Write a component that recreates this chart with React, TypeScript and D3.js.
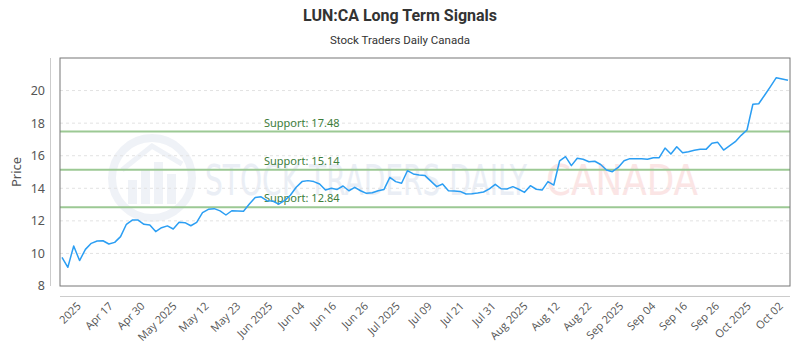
import React from "react";
import * as d3 from "d3";

// Daily closes (trading days, Apr 2025 -> Oct 2025)
const prices = [
  9.76, 9.15, 10.46, 9.56, 10.25, 10.62, 10.76, 10.78, 10.58, 10.68,
  11.03, 11.79, 12.05, 12.05, 11.79, 11.75, 11.34, 11.58, 11.69, 11.5,
  11.91, 11.89, 11.7, 11.91, 12.5, 12.71, 12.75, 12.61, 12.36, 12.62,
  12.61, 12.59, 13.03, 13.44, 13.48, 13.24, 13.22, 13.03, 13.24, 13.57,
  14.06, 14.41, 14.47, 14.41, 14.26, 13.89, 14.0, 13.93, 14.14, 13.85,
  14.06, 13.85, 13.69, 13.73, 13.85, 13.93, 14.67, 14.41, 14.31, 15.08,
  14.88, 14.82, 14.78, 14.44, 14.1, 14.26, 13.85, 13.83, 13.81, 13.65,
  13.67, 13.71, 13.77, 13.96, 14.24, 13.97, 13.96, 14.1, 13.94, 13.75,
  14.16, 13.94, 13.89, 14.41, 14.2, 15.69, 15.94, 15.39, 15.84, 15.78,
  15.63, 15.66, 15.46, 15.12, 15.02, 15.28, 15.69, 15.82, 15.82, 15.82,
  15.78, 15.88, 15.88, 16.47, 16.1, 16.55, 16.18, 16.25, 16.33, 16.39,
  16.39, 16.76, 16.82, 16.35, 16.6, 16.86, 17.25, 17.58, 19.16, 19.19,
  19.71, 20.24, 20.79, 20.71, 20.63,
];

const xLabels = [
  "2025", "Apr 17", "Apr 30", "May 2025", "May 12", "May 23", "Jun 2025",
  "Jun 04", "Jun 16", "Jun 26", "Jul 2025", "Jul 09", "Jul 21", "Jul 31",
  "Aug 2025", "Aug 12", "Aug 22", "Sep 2025", "Sep 04", "Sep 16", "Sep 26",
  "Oct 2025", "Oct 02",
];

const yTicks = [8, 10, 12, 14, 16, 18, 20];
const gridTicks = [10, 12, 14, 16, 18, 20];
const supports = [17.48, 15.14, 12.84];

const W = 800;
const H = 350;
const plot = { left: 60, right: 790, top: 58, bottom: 286 };

export default function App() {
  const x = d3.scaleLinear().domain([0, prices.length - 1]).range([62, 788]);
  const y = d3.scaleLinear().domain([8, 22]).range([plot.bottom, plot.top]);
  const xl = d3.scalePoint<string>().domain(xLabels).range([79, 781]);

  const line = d3.line<number>()
    .x((_, i) => x(i))
    .y(d => y(d));

  const font = "'Open Sans', sans-serif";

  return (
    <svg width={W} height={H} style={{ position: "absolute", left: 0, top: 0, background: "#fff" }}>
      {/* Title */}
      <text x={400} y={21} textAnchor="middle" fontFamily="Roboto, sans-serif" fontWeight="bold" fontSize={16} fill="#333">
        LUN:CA Long Term Signals
      </text>
      <text x={400} y={44} textAnchor="middle" fontFamily="Roboto, sans-serif" fontSize={11.5} fill="#333">
        Stock Traders Daily Canada
      </text>

      {/* Watermark */}
      <g opacity={0.9}>
        <circle cx={152} cy={178} r={40} fill="none" stroke="#eef1f7" strokeWidth={8} />
        <rect x={128} y={180} width={9} height={24} fill="#eef1f7" />
        <rect x={141} y={170} width={9} height={34} fill="#eef1f7" />
        <rect x={154} y={162} width={9} height={42} fill="#eef1f7" />
        <rect x={167} y={174} width={9} height={30} fill="#eef1f7" />
        <path d="M122,170 L152,146 L182,164" fill="none" stroke="#eef1f7" strokeWidth={5} />
        <text x={205} y={195} fontFamily="'DejaVu Sans', sans-serif" fontSize={42} fill="#e8edf5"
          textLength={322} lengthAdjust="spacingAndGlyphs">
          STOCK TRADERS DAILY
        </text>
        <text x={546} y={195} fontFamily="'DejaVu Sans', sans-serif" fontSize={42} fill="#fbe3e3"
          textLength={152} lengthAdjust="spacingAndGlyphs">
          CANADA
        </text>
      </g>

      {/* Grid */}
      {gridTicks.map(t => (
        <line key={t} x1={plot.left} x2={plot.right} y1={y(t)} y2={y(t)}
          stroke="#e2e2e2" strokeDasharray="3,3" />
      ))}

      {/* Support lines */}
      {supports.map(s => (
        <g key={s}>
          <line x1={plot.left} x2={plot.right} y1={y(s)} y2={y(s)} stroke="#9cc994" strokeWidth={2} />
          <text x={264} y={y(s) - 5} fontFamily="'Noto Sans', sans-serif" fontSize={11} fill="#3d7d3a">
            {`Support: ${s.toFixed(2)}`}
          </text>
        </g>
      ))}

      {/* Price line */}
      <path d={line(prices) ?? ""} fill="none" stroke="#2b9ef3" strokeWidth={1.5} strokeLinejoin="round" />

      {/* Plot box */}
      <rect x={plot.left} y={plot.top} width={plot.right - plot.left} height={plot.bottom - plot.top}
        fill="none" stroke="#777" strokeWidth={1} />

      {/* Y axis */}
      <line x1={50.5} x2={50.5} y1={plot.top} y2={plot.bottom} stroke="#ccc" />
      {yTicks.map(t => (
        <text key={t} x={45} y={y(t)} dy="0.35em" textAnchor="end" fontFamily="'Noto Sans', sans-serif"
          fontSize={12.5} fill="#555">
          {t}
        </text>
      ))}
      <text transform={`translate(21,${(plot.top + plot.bottom) / 2}) rotate(-90)`} textAnchor="middle"
        fontFamily="'Noto Sans', sans-serif" fontSize={13} fill="#555">
        Price
      </text>

      {/* X axis */}
      <line x1={plot.left} x2={plot.right} y1={296.5} y2={296.5} stroke="#ccc" />
      {xLabels.map(l => (
        <text key={l} transform={`translate(${xl(l)},304) rotate(-45)`} textAnchor="end" dy="0.35em"
          fontFamily={font} fontSize={11} fill="#555">
          {l}
        </text>
      ))}
    </svg>
  );
}
